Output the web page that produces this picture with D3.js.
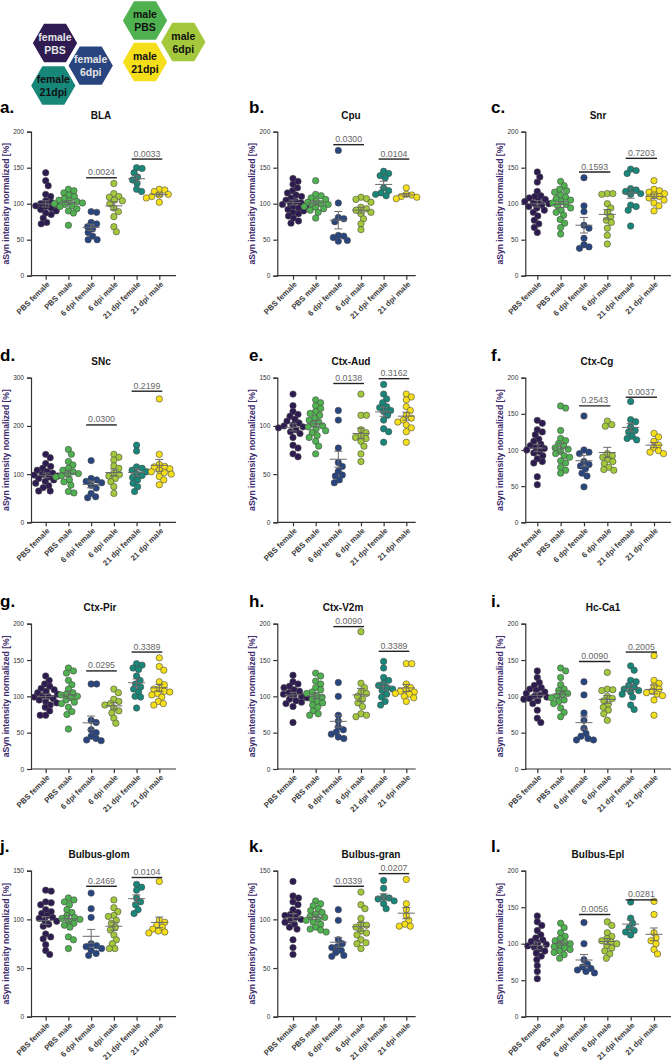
<!DOCTYPE html>
<html>
<head>
    <meta charset="utf-8" />
    <title>aSyn intensity per region</title>
    <script src="https://cdnjs.cloudflare.com/ajax/libs/d3/7.8.5/d3.min.js"></script>
    <style>
        body { margin: 0; background-color: white; }
        text { font-family: "Liberation Sans", Arial, sans-serif; }
    </style>
</head>
<body>
<script>
    var groups = ["PBS female", "PBS male", "6 dpi female", "6 dpi male", "21 dpi female", "21 dpi male"];
    var groupColors = ["#2d1b52", "#4fb150", "#28457f", "#a3c83b", "#17877a", "#f5df1a"];

    var regions = ["BLA", "Cpu", "Snr", "SNc", "Ctx-Aud", "Ctx-Cg", "Ctx-Pir", "Ctx-V2m", "Hc-Ca1", "Bulbus-glom", "Bulbus-gran", "Bulbus-Epl"];
    var letters = ["a.", "b.", "c.", "d.", "e.", "f.", "g.", "h.", "i.", "j.", "k.", "l."];
    var yMaxima = [200, 200, 200, 300, 150, 200, 200, 200, 200, 150, 150, 200];
    var yTickSteps = [50, 50, 50, 100, 50, 50, 50, 50, 50, 50, 50, 50];

    // one array per group, in the order of `groups`
    var bla = [
        [143, 132, 125, 113, 110, 104, 102, 100, 99, 97, 96, 94, 92, 90, 87, 85, 80, 74, 72],
        [120, 118, 115, 112, 110, 107, 105, 104, 103, 101, 100, 99, 97, 96, 93, 90, 87, 70],
        [89, 88, 74, 72, 68, 65, 60, 55, 50, 50],
        [128, 114, 110, 109, 105, 104, 100, 94, 89, 82, 68, 61],
        [150, 149, 143, 137, 133, 128, 120, 117],
        [120, 119, 117, 113, 112, 110, 108, 102]
    ];
    var cpu = [
        [135, 131, 127, 122, 118, 115, 112, 110, 108, 105, 103, 101, 100, 99, 97, 96, 94, 92, 90, 88, 86, 83, 80, 76, 73],
        [132, 113, 111, 108, 106, 104, 102, 100, 99, 98, 96, 95, 93, 91, 88, 80],
        [174, 101, 81, 79, 75, 56, 55, 53, 49, 48],
        [109, 107, 106, 102, 95, 93, 91, 88, 86, 79, 72, 64],
        [145, 142, 139, 136, 122, 118, 115, 113, 111],
        [122, 113, 112, 110, 109, 107]
    ];
    var snr = [
        [144, 137, 130, 117, 111, 110, 108, 106, 104, 103, 101, 100, 98, 96, 94, 91, 88, 83, 77, 72, 67, 60],
        [131, 125, 120, 118, 116, 112, 109, 107, 105, 103, 101, 99, 97, 94, 91, 88, 84, 78, 73, 67, 58],
        [136, 97, 89, 70, 66, 52, 43, 40, 38],
        [114, 114, 113, 100, 94, 88, 82, 77, 74, 66, 56, 44],
        [148, 146, 142, 121, 119, 117, 114, 113, 98, 96, 91, 69],
        [132, 120, 118, 116, 114, 112, 110, 108, 105, 101, 97, 90]
    ];
    var snc = [
        [141, 134, 122, 116, 112, 108, 105, 102, 100, 98, 96, 94, 91, 88, 85, 81, 76, 72, 65, 65],
        [151, 141, 126, 119, 112, 108, 105, 101, 99, 97, 94, 88, 84, 77, 64, 61],
        [128, 91, 88, 85, 82, 77, 71, 60, 53, 51],
        [141, 135, 129, 117, 112, 102, 99, 96, 91, 84, 74, 60],
        [160, 148, 115, 112, 108, 105, 101, 97, 93, 88, 81, 74, 64],
        [256, 141, 120, 116, 115, 111, 108, 105, 103, 100, 95, 88, 78]
    ];
    var ctxAud = [
        [133, 121, 115, 112, 110, 107, 105, 103, 101, 100, 99, 98, 96, 94, 92, 88, 80, 77, 71, 68],
        [127, 124, 121, 118, 115, 113, 111, 108, 106, 104, 102, 100, 99, 97, 95, 93, 90, 88, 84, 79, 71],
        [116, 106, 77, 62, 58, 53, 49, 48, 44, 41],
        [133, 111, 111, 96, 93, 90, 88, 87, 84, 79, 71, 63],
        [143, 133, 128, 124, 120, 119, 116, 115, 111, 106, 97, 94, 83],
        [133, 130, 127, 120, 116, 111, 108, 106, 104, 101, 98, 94, 83]
    ];
    var ctxCg = [
        [141, 137, 128, 125, 121, 115, 112, 108, 106, 104, 102, 100, 98, 96, 92, 88, 84, 82, 63, 52],
        [161, 158, 127, 116, 113, 109, 106, 103, 101, 98, 95, 92, 90, 85, 82, 76, 72, 68],
        [147, 100, 97, 95, 84, 80, 78, 74, 68, 64, 49],
        [140, 135, 133, 95, 92, 90, 87, 84, 81, 76, 73, 72],
        [167, 142, 139, 132, 127, 125, 119, 116, 114],
        [123, 118, 112, 107, 103, 99, 97, 95]
    ];
    var ctxPir = [
        [128, 122, 117, 114, 111, 109, 107, 105, 103, 101, 100, 99, 97, 95, 93, 91, 88, 85, 80, 74, 74],
        [139, 135, 132, 122, 116, 110, 105, 103, 102, 100, 98, 95, 92, 90, 85, 79, 75, 55],
        [117, 117, 67, 64, 54, 50, 45, 42, 40, 39],
        [110, 105, 96, 93, 90, 88, 84, 80, 77, 70, 63],
        [145, 143, 139, 137, 128, 122, 117, 113, 110, 106, 100, 99, 84],
        [153, 141, 136, 120, 116, 111, 110, 107, 106, 104, 102, 99, 93, 90, 88]
    ];
    var ctxV2m = [
        [129, 120, 117, 114, 112, 109, 107, 105, 103, 101, 100, 98, 96, 94, 92, 90, 86, 64],
        [132, 128, 121, 117, 112, 109, 106, 104, 101, 99, 96, 93, 91, 88, 85, 80, 76, 74],
        [119, 100, 74, 66, 58, 54, 51, 48, 44, 42],
        [189, 118, 112, 106, 104, 100, 96, 91, 86, 76, 74, 72],
        [148, 139, 126, 122, 118, 115, 112, 110, 108, 103, 99, 93, 88],
        [145, 145, 117, 112, 109, 107, 106, 104, 103, 100, 98, 93]
    ];
    var hcCa1 = [
        [135, 126, 119, 115, 112, 110, 108, 106, 104, 102, 100, 99, 97, 96, 94, 90, 81, 70, 64],
        [139, 135, 126, 116, 110, 108, 104, 102, 100, 98, 95, 93, 90, 84, 78, 72],
        [120, 102, 77, 67, 56, 49, 45, 42, 40, 40],
        [133, 110, 109, 108, 100, 97, 94, 89, 85, 81, 76, 67],
        [142, 136, 122, 120, 115, 113, 110, 108, 106, 103, 99, 88, 82],
        [156, 122, 118, 114, 110, 107, 105, 103, 101, 95, 74]
    ];
    var bulbusGlom = [
        [130, 129, 118, 117, 115, 110, 108, 106, 104, 102, 101, 99, 98, 95, 93, 85, 82, 80, 74, 68, 64],
        [122, 120, 118, 115, 110, 107, 104, 102, 101, 100, 98, 96, 94, 92, 82, 79, 70],
        [127, 111, 102, 75, 73, 72, 70, 68, 65, 63],
        [120, 112, 108, 104, 103, 99, 96, 92, 89, 84, 79, 75, 70, 70],
        [136, 133, 130, 122, 118, 115, 110, 106],
        [139, 99, 97, 94, 92, 90, 88, 87, 86]
    ];
    var bulbusGran = [
        [139, 124, 122, 118, 115, 110, 107, 105, 104, 102, 100, 99, 97, 95, 92, 90, 79, 71, 64],
        [119, 116, 114, 111, 109, 107, 105, 103, 102, 100, 99, 97, 95, 92, 90, 89, 87],
        [110, 99, 79, 75, 72, 71, 68, 66, 63, 62],
        [128, 115, 111, 101, 95, 94, 92, 88, 86, 84, 79, 76, 75, 70],
        [140, 132, 123, 122, 121, 119, 116, 111],
        [141, 116, 110, 104, 99, 95, 93, 93]
    ];
    var bulbusEpl = [
        [138, 130, 125, 118, 112, 108, 105, 103, 101, 99, 97, 95, 93, 90, 87, 83, 78, 70, 62, 52],
        [128, 122, 115, 110, 107, 104, 102, 100, 98, 96, 94, 92, 90, 88, 85, 80],
        [129, 100, 78, 72, 68, 66, 64, 62, 60],
        [130, 125, 115, 110, 107, 104, 102, 100, 97, 94, 90, 86, 80],
        [157, 135, 128, 122, 118, 116, 112],
        [158, 140, 115, 108, 104, 100, 92, 86]
    ];
    var panelData = [bla, cpu, snr, snc, ctxAud, ctxCg, ctxPir, ctxV2m, hcCa1, bulbusGlom, bulbusGran, bulbusEpl];

    // p values: 6 dpi female vs male, 21 dpi female vs male, and the height of their bars
    var p6dpi = ["0.0024", "0.0300", "0.1593", "0.0300", "0.0138", "0.2543", "0.0295", "0.0090", "0.0090", "0.2469", "0.0339", "0.0056"];
    var bar6dpi = [136, 182, 144, 202, 144, 161, 135, 196, 148, 134, 134, 140];
    var p21dpi = ["0.0033", "0.0104", "0.7203", "0.2199", "0.3162", "0.0037", "0.3389", "0.3389", "0.2005", "0.0104", "0.0207", "0.0281"];
    var bar21dpi = [162, 162, 163, 272, 149, 173, 161, 162, 161, 143, 147, 160];

    var legendItems = [
        {sex: "female", time: "PBS", group: 0},
        {sex: "female", time: "6dpi", group: 2},
        {sex: "female", time: "21dpi", group: 4},
        {sex: "male", time: "PBS", group: 1},
        {sex: "male", time: "6dpi", group: 3},
        {sex: "male", time: "21dpi", group: 5}
    ];

    // layout of the 3x4 grid
    var cols = [
        {axis: 31, first: 45.7, last: 159.3, end: 176, letter: 0},
        {axis: 277.3, first: 293, last: 406.3, end: 415.7, letter: 249},
        {axis: 525.3, first: 537.3, last: 654, end: 671, letter: 491}
    ];
    var rows = [
        {top: 131.7, zero: 275.7, title: 118.5, letter: 113},
        {top: 377.7, zero: 522.3, title: 364.5, letter: 361},
        {top: 623.7, zero: 769, title: 610.5, letter: 607},
        {top: 870.7, zero: 1016.7, title: 857.5, letter: 852}
    ];
    var titleX = [101, 351, 598, 101, 351, 597, 100, 343, 603, 99, 371, 598];
    var legendPos = [[55, 43], [90.7, 65.7], [53.3, 85.5], [145, 20.5], [183.3, 42], [145, 62]];

    var width = 672, height = 1064, r = 3.2;

    var svg = d3.select("body").append("svg")
        .attr("width", width)
        .attr("height", height);

    // legend hexagons
    var hex = d3.range(6).map(function(k) {
        var a = Math.PI / 3 * k;
        return [23 * Math.cos(a), 23 * Math.sin(a)];
    });
    var legend = svg.append("g").selectAll("g")
        .data(legendItems)
        .enter().append("g")
        .attr("transform", (d, i) => "translate(" + legendPos[i][0] + "," + legendPos[i][1] + ")");
    legend.append("polygon")
        .attr("points", hex.map(p => p.join(",")).join(" "))
        .attr("fill", d => groupColors[d.group])
        .attr("stroke", "white")
        .attr("stroke-width", 1.5);
    legend.append("text")
        .attr("text-anchor", "middle")
        .attr("font-size", "10.5px")
        .attr("font-weight", "bold")
        .attr("fill", d => (d.group === 0 || d.group === 2) ? "#e4e4e4" : "#111")
        .selectAll("tspan")
        .data(d => [d.sex, d.time])
        .enter().append("tspan")
        .attr("x", 0)
        .attr("y", (d, i) => i === 0 ? -2.5 : 10.5)
        .text(d => d);

    // beeswarm placement of one group's values (points may overlap a little)
    function swarm(values, y) {
        var placed = [], minDist = 2 * r * 0.85;
        values.slice().sort((a, b) => b - a).forEach(function(v) {
            var py = y(v), best = 0;
            for (var s = 0; s < 60; s++) {
                var off = (s % 2 ? 1 : -1) * Math.ceil(s / 2) * 0.5;
                var ok = placed.every(p => (p.dx - off) * (p.dx - off) + (p.y - py) * (p.y - py) >= minDist * minDist);
                if (ok) { best = off; break; }
            }
            placed.push({v: v, dx: best, y: py});
        });
        return placed;
    }

    panelData.forEach(function(data, idx) {
        var col = cols[idx % 3], row = rows[Math.floor(idx / 3)];
        var g = svg.append("g");

        var x = d3.scalePoint().domain(groups).range([col.first, col.last]);
        var y = d3.scaleLinear().domain([0, yMaxima[idx]]).range([row.zero, row.top]);

        // y axis
        var yAxis = d3.axisLeft(y)
            .tickValues(d3.range(0, yMaxima[idx] + 1, yTickSteps[idx]))
            .tickSize(4)
            .tickPadding(3);
        var ya = g.append("g")
            .attr("transform", "translate(" + col.axis + ",0)")
            .call(yAxis);
        ya.select(".domain").attr("stroke", "#333").attr("stroke-width", 1.2);
        ya.selectAll(".tick line").attr("stroke", "#333").attr("stroke-width", 1.2);
        ya.selectAll(".tick text")
            .attr("font-family", "Liberation Sans, Arial, sans-serif")
            .attr("font-size", "6.5px")
            .attr("fill", "#333");

        // x axis
        var xAxis = d3.axisBottom(x).tickSize(4).tickFormat("");
        var xa = g.append("g")
            .attr("transform", "translate(0," + row.zero + ")")
            .call(xAxis);
        xa.select(".domain")
            .attr("d", "M" + col.axis + ",0H" + col.end)
            .attr("stroke", "#333").attr("stroke-width", 1.2);
        xa.selectAll(".tick line").attr("stroke", "#333").attr("stroke-width", 1.2);

        g.selectAll(".xlabel")
            .data(groups)
            .enter().append("text")
            .attr("class", "xlabel")
            .attr("transform", d => "translate(" + (x(d) + 2.5) + "," + (row.zero + 7) + ") rotate(-45)")
            .attr("text-anchor", "end")
            .attr("dy", "0.35em")
            .attr("font-size", "7.8px")
            .attr("font-weight", "bold")
            .attr("fill", "#3a3a3a")
            .text(d => d);

        // y title
        g.append("text")
            .attr("transform", "translate(" + (col.axis - 25) + "," + ((row.top + row.zero) / 2) + ") rotate(-90)")
            .attr("text-anchor", "middle")
            .attr("dominant-baseline", "central")
            .attr("font-size", "8.6px")
            .attr("font-weight", "bold")
            .attr("fill", "#3b2a6c")
            .text("aSyn intensity normalized [%]");

        // panel title and letter
        g.append("text")
            .attr("x", titleX[idx])
            .attr("y", row.title)
            .attr("text-anchor", "middle")
            .attr("font-size", "10px")
            .attr("font-weight", "bold")
            .attr("fill", "#111")
            .text(regions[idx]);
        g.append("text")
            .attr("x", col.letter)
            .attr("y", row.letter)
            .attr("font-size", "17px")
            .attr("font-weight", "bold")
            .attr("fill", "#000")
            .text(letters[idx]);

        // points, then mean and SEM
        data.forEach(function(values, gi) {
            var cx = x(groups[gi]);
            var pts = swarm(values, y);
            g.append("g").selectAll("circle")
                .data(pts)
                .enter().append("circle")
                .attr("cx", d => cx + d.dx)
                .attr("cy", d => d.y)
                .attr("r", r)
                .attr("fill", groupColors[gi])
                .attr("stroke", "#4a4a4a")
                .attr("stroke-width", 0.6);

            var mean = d3.mean(values);
            var sem = d3.deviation(values) / Math.sqrt(values.length);
            var eb = g.append("g").attr("stroke", "#6a6a6a").attr("stroke-width", 1).attr("fill", "none");
            eb.append("line").attr("x1", cx - 8.5).attr("x2", cx + 8.5).attr("y1", y(mean)).attr("y2", y(mean));
            eb.append("line").attr("x1", cx).attr("x2", cx).attr("y1", y(mean - sem)).attr("y2", y(mean + sem));
            eb.append("line").attr("x1", cx - 4).attr("x2", cx + 4).attr("y1", y(mean + sem)).attr("y2", y(mean + sem));
            eb.append("line").attr("x1", cx - 4).attr("x2", cx + 4).attr("y1", y(mean - sem)).attr("y2", y(mean - sem));
        });

        // significance bars
        [[2, 3, bar6dpi[idx], p6dpi[idx]], [4, 5, bar21dpi[idx], p21dpi[idx]]].forEach(function(s) {
            var x1 = x(groups[s[0]]) - 5, x2 = x(groups[s[1]]) + 3;
            g.append("line")
                .attr("x1", x1).attr("x2", x2)
                .attr("y1", y(s[2])).attr("y2", y(s[2]))
                .attr("stroke", "#222")
                .attr("stroke-width", 1.4);
            g.append("text")
                .attr("x", (x1 + x2) / 2)
                .attr("y", y(s[2]) - 2.5)
                .attr("text-anchor", "middle")
                .attr("font-size", "8.8px")
                .attr("fill", "#666")
                .text(s[3]);
        });
    });
</script>
</body>
</html>
